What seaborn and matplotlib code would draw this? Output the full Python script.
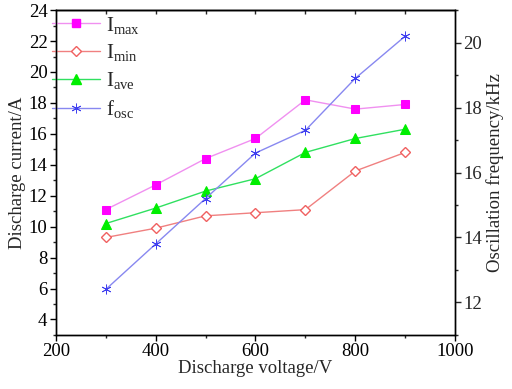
import matplotlib
matplotlib.use("Agg")
import matplotlib.pyplot as plt
import pandas as pd
import seaborn as sns
from matplotlib.ticker import MultipleLocator
from matplotlib.lines import Line2D

voltage = [300, 400, 500, 600, 700, 800, 900]
i_max = [11.1, 12.7, 14.4, 15.7, 18.2, 17.6, 17.9]
i_min = [9.3, 9.9, 10.7, 10.9, 11.1, 13.6, 14.8]
i_ave = [10.2, 11.2, 12.3, 13.1, 14.8, 15.7, 16.3]
f_osc = [12.4, 13.8, 15.2, 16.6, 17.3, 18.9, 20.2]

labels = [r"I$_{\mathrm{max}}$", r"I$_{\mathrm{min}}$", r"I$_{\mathrm{ave}}$", r"f$_{\mathrm{osc}}$"]

sns.set_theme(style="white")
plt.rcParams.update({
    "font.family": ["Liberation Serif", "DejaVu Serif"],
    "mathtext.fontset": "custom",
    "mathtext.rm": "Liberation Serif",
    "mathtext.it": "Liberation Serif:italic",
    "font.size": 13.5,
    "axes.linewidth": 1.0,
})

df = pd.DataFrame({"voltage": voltage, "imax": i_max, "imin": i_min,
                   "iave": i_ave, "fosc": f_osc})

fig = plt.figure(figsize=(5.12, 3.89), dpi=100)
ax = fig.add_axes([0.109, 0.139, 0.780, 0.835])
ax2 = ax.twinx()

styles = {
    "imax": dict(color="#F090F0", marker="s", markerfacecolor="#FF00FF",
                 markeredgecolor="#FF00FF", markersize=5.5),
    "imin": dict(color="#F08080", marker="D", markerfacecolor="white",
                 markeredgecolor="#F06060", markersize=5.5, markeredgewidth=1.0),
    "iave": dict(color="#30E060", marker="^", markerfacecolor="#00EE00",
                 markeredgecolor="#00EE00", markersize=6.5),
    "fosc": dict(color="#8888F0", marker=(6, 2, 0), markerfacecolor="#3030F0",
                 markeredgecolor="#4040F0", markersize=7, markeredgewidth=0.6),
}

for key in ["imax", "imin", "iave"]:
    sns.lineplot(data=df, x="voltage", y=key, ax=ax, linewidth=1.0, **styles[key])
sns.lineplot(data=df, x="voltage", y="fosc", ax=ax2, linewidth=1.0, **styles["fosc"])

ax.set_xlim(200, 1000)
ax.set_ylim(3, 24)
ax2.set_ylim(11, 21)

ax.xaxis.set_major_locator(MultipleLocator(200))
ax.xaxis.set_minor_locator(MultipleLocator(100))
ax.yaxis.set_major_locator(MultipleLocator(2))
ax.yaxis.set_minor_locator(MultipleLocator(1))
ax2.yaxis.set_major_locator(MultipleLocator(2))
ax2.yaxis.set_minor_locator(MultipleLocator(1))

ax.tick_params(axis="both", which="major", direction="out", length=4, width=1,
               labelsize=13.5, colors="black", pad=2)
ax.tick_params(axis="both", which="minor", direction="out", length=2.5, width=1)
ax.tick_params(axis="x", which="both", top=True, labeltop=False)
ax2.tick_params(axis="y", which="major", direction="out", length=4, width=1,
                labelsize=13.5, pad=2)
ax2.tick_params(axis="y", which="minor", direction="out", length=2.5, width=1)
ax.yaxis.set_ticks_position("left")
ax.xaxis.set_ticks_position("bottom")

# inward ticks on the top spine
top = ax.secondary_xaxis("top")
top.set_xticks([300, 400, 500, 600, 700, 800, 900])
top.tick_params(direction="in", length=3, width=1, labeltop=False)
top.set_xticklabels([])

for a in (ax, ax2):
    for s in a.spines.values():
        s.set_color("black")
        s.set_linewidth(1.0)

ax.set_xlabel("Discharge voltage/V", fontsize=13.5, labelpad=0)
ax.set_ylabel("Discharge current/A", fontsize=13.5, labelpad=2)
ax2.set_ylabel("Oscillation frequency/kHz", fontsize=13.5, labelpad=3)

handles = [Line2D([], [], linewidth=1.0, **styles[k]) for k in ["imax", "imin", "iave", "fosc"]]
ax.legend(handles, labels, loc="upper left", frameon=False, fontsize=15,
          handlelength=2.3, handletextpad=0.3, labelspacing=0.33,
          borderaxespad=0.0, bbox_to_anchor=(-0.03, 1.012))

fig.savefig("out.png", dpi=100)
